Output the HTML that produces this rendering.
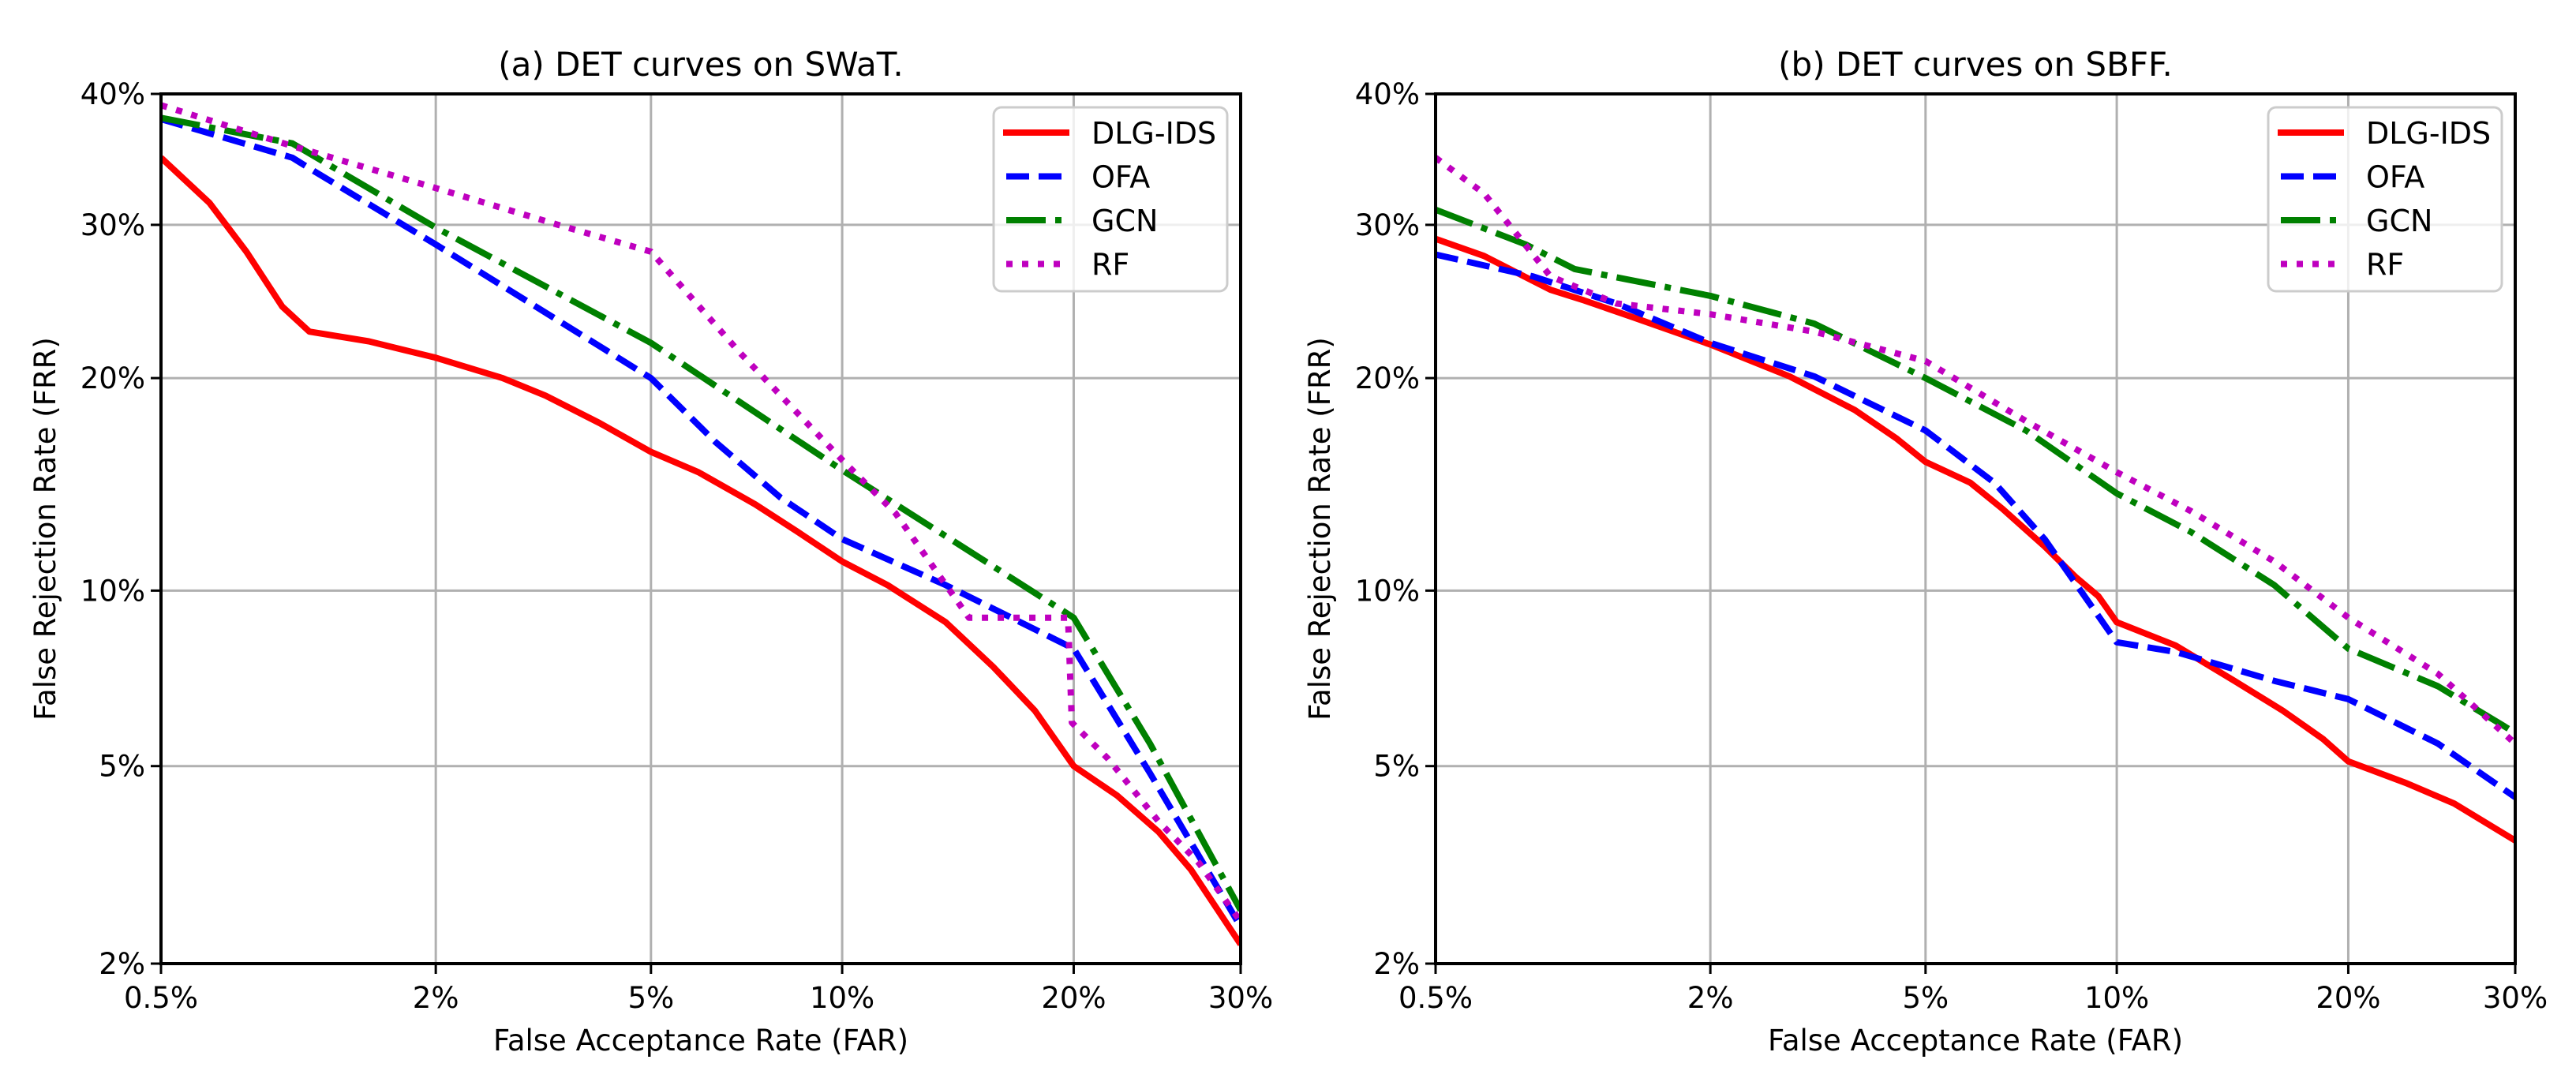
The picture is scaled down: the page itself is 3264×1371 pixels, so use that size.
<!DOCTYPE html>
<html><head><meta charset="utf-8">
<style>
html,body{margin:0;padding:0;background:#fff;}
svg{display:block;font-family:"DejaVu Sans","Liberation Sans",sans-serif;}
</style></head>
<body>
<svg id="fig" width="3264" height="1371" viewBox="0 0 3264 1371" xmlns="http://www.w3.org/2000/svg"></svg>
<script>
// ---- data (percent) ----
const xTicks = [0.5, 2, 5, 10, 20, 30];
const xTickLabels = ["0.5%", "2%", "5%", "10%", "20%", "30%"];
const yTicks = [2, 5, 10, 20, 30, 40];
const yTickLabels = ["2%", "5%", "10%", "20%", "30%", "40%"];
const seriesNames = ["DLG-IDS", "OFA", "GCN", "RF"];

// Panel (a) SWaT
const swatDlgFar = [0.5,0.65,0.79,0.95,1.09,1.46,2,2.7,3.25,4.07,5,6.0,7.4,8.6,10,11.6,13.9,16,18,20,22.4,24.8,26.8,30];
const swatDlgFrr = [35,31.6,28.1,24.4,22.8,22.2,21.2,20,19,17.5,16,15,13.5,12.3,11.1,10.2,8.9,7.5,6.3,5,4.4,3.75,3.15,2.2];
const swatOfaFar = [0.5,1.0,1.1,2,5,6.4,8.1,10,13.9,20,24.3,30];
const swatOfaFrr = [38,35,34.1,28.6,20,16.5,13.8,12,10.2,8.05,4.85,2.4];
const swatGcnFar = [0.5,1.0,2,5,10,20,24.3,30];
const swatGcnFrr = [38.1,36.1,29.8,22.1,15.1,9.05,5.5,2.6];
const swatRfFar = [0.5,1.0,2,3.43,5,7.0,10,11.9,14.9,19.7,19.9,21.9,24.8,27.3,30];
const swatRfFrr = [39.1,35.9,32.7,30,28.1,21.5,15.6,13.1,9.05,9.05,6.0,5.15,3.93,3.25,2.46];

// Panel (b) SBFF
const sbffDlgFar = [0.5,0.65,0.92,1.09,1.39,2,2.85,3.76,4.45,5,5.94,6.7,7.8,8.7,9.4,10,12.1,14.5,16.7,18.7,20,23.2,26.1,30];
const sbffDlgFrr = [29,27.8,25.5,24.8,23.7,22,20.1,18.2,16.7,15.5,14.5,13.3,11.7,10.5,9.8,8.9,8.15,7.1,6.3,5.6,5.1,4.65,4.25,3.6];
const sbffOfaFar = [0.5,0.84,1.28,2,3.17,5,6.5,7.8,10,12.1,16.3,20,25.1,30];
const sbffOfaFrr = [27.9,26.4,24.6,22.1,20.1,17.1,14.5,12,8.25,7.95,7.1,6.6,5.5,4.37];
const sbffGcnFar = [0.5,0.81,1.04,2,3.17,5,7.3,10,12.7,16.3,20,25.1,30];
const sbffGcnFrr = [31.1,28.6,26.9,25.1,23.3,20,17.1,14,12.3,10.2,8.05,6.95,5.75];
const sbffRfFar = [0.5,0.65,0.92,1.28,2,3.17,5,7.3,10,12.7,16.3,20,25.1,30];
const sbffRfFrr = [35,32.3,26.4,24.6,23.9,22.8,21,17.6,15,13.2,11.1,9.05,7.3,5.5];

// ---- helpers ----
function probit(p){
  const a=[-3.969683028665376e+01,2.209460984245205e+02,-2.759285104469687e+02,1.383577518672690e+02,-3.066479806614716e+01,2.506628277459239e+00];
  const b=[-5.447609879822406e+01,1.615858368580409e+02,-1.556989798598866e+02,6.680131188771972e+01,-1.328068155288572e+01];
  const c=[-7.784894002430293e-03,-3.223964580411365e-01,-2.400758277161838e+00,-2.549732539343734e+00,4.374664141464968e+00,2.938163982698783e+00];
  const d=[7.784695709041462e-03,3.224671290700398e-01,2.445134137142996e+00,3.754408661907416e+00];
  const pl=0.02425;let q,r;
  if(p<pl){q=Math.sqrt(-2*Math.log(p));return (((((c[0]*q+c[1])*q+c[2])*q+c[3])*q+c[4])*q+c[5])/((((d[0]*q+d[1])*q+d[2])*q+d[3])*q+1);}
  if(p<=1-pl){q=p-0.5;r=q*q;return (((((a[0]*r+a[1])*r+a[2])*r+a[3])*r+a[4])*r+a[5])*q/(((((b[0]*r+b[1])*r+b[2])*r+b[3])*r+b[4])*r+1);}
  q=Math.sqrt(-2*Math.log(1-p));return -(((((c[0]*q+c[1])*q+c[2])*q+c[3])*q+c[4])*q+c[5])/((((d[0]*q+d[1])*q+d[2])*q+d[3])*q+1);
}
const NS="http://www.w3.org/2000/svg";
const svg=document.getElementById('fig');
function mk(tag,attrs,parent){const e=document.createElementNS(NS,tag);for(const k in attrs)e.setAttribute(k,attrs[k]);(parent||svg).appendChild(e);return e;}

const styles=[
  {color:"#ff0000",dash:null},
  {color:"#0000ff",dash:"29,12"},
  {color:"#008000",dash:"50,12,8,12"},
  {color:"#bf00bf",dash:"8,12"}
];

function panel(key,L,title,series){
  const T=119,B=1221,W=1368,R=L+W;
  const x0=probit(0.005),x1=probit(0.30),y0=probit(0.02),y1=probit(0.40);
  const sx=v=>L+(probit(v/100)-x0)/(x1-x0)*W;
  const sy=v=>B-(probit(v/100)-y0)/(y1-y0)*(B-T);
  const g=mk('g',{});
  
  
  // grid
  xTicks.forEach((t,i)=>{
    const x=sx(t);
    const ln=mk('line',{x1:x,x2:x,y1:T,y2:B,stroke:'#b0b0b0','stroke-width':3},g);
    
    
    mk('line',{x1:x,x2:x,y1:B,y2:B+13,stroke:'#000','stroke-width':3},g);
    const tx=mk('text',{x:x,y:B+56,'font-size':37,'text-anchor':'middle',fill:'#000'},g);
    tx.textContent=xTickLabels[i];
    
    
  });
  yTicks.forEach((t,i)=>{
    const y=sy(t);
    const ln=mk('line',{x1:L,x2:R,y1:y,y2:y,stroke:'#b0b0b0','stroke-width':3},g);
    
    
    mk('line',{x1:L-13,x2:L,y1:y,y2:y,stroke:'#000','stroke-width':3},g);
    const tx=mk('text',{x:L-20,y:y+13,'font-size':37,'text-anchor':'end',fill:'#000'},g);
    tx.textContent=yTickLabels[i];
    
    
  });
  // curves
  const clip=mk('clipPath',{id:'clip-'+key},g);
  mk('rect',{x:L,y:T,width:W,height:B-T},clip);
  series.forEach((s,i)=>{
    const pts=s[0].map((v,j)=>sx(v).toFixed(1)+','+sy(s[1][j]).toFixed(1)).join(' ');
    const a={points:pts,fill:'none',stroke:styles[i].color,'stroke-width':8,'stroke-linejoin':'round','clip-path':'url(#clip-'+key+')'};
    if(styles[i].dash){a['stroke-dasharray']=styles[i].dash;}
    const pl=mk('polyline',a,g);
    
    
  });
  // frame
  const fr=mk('rect',{x:L,y:T,width:W,height:B-T,fill:'none',stroke:'#000','stroke-width':4},g);
  
  
  // titles
  const tt=mk('text',{x:L+W/2,y:96,'font-size':42,'text-anchor':'middle',fill:'#000'},g);
  tt.textContent=title;
  
  
  const xt=mk('text',{x:L+W/2,y:1331,'font-size':37,'text-anchor':'middle',fill:'#000'},g);
  xt.textContent='False Acceptance Rate (FAR)';
  
  
  const yt=mk('text',{x:0,y:0,'font-size':37,'text-anchor':'middle',fill:'#000',transform:'translate('+(L-134)+','+((T+B)/2)+') rotate(-90)'},g);
  yt.textContent='False Rejection Rate (FRR)';
  
  
  // legend
  const lx=L+1055, ly=136;
  const lg=mk('g',{},g);
  
  
  mk('rect',{x:lx,y:ly,width:296,height:233,rx:10,fill:'#fff','fill-opacity':0.8,stroke:'#cccccc','stroke-width':3},lg);
  seriesNames.forEach((n,i)=>{
    const y=168+i*55.5;
    const a={x1:lx+12,x2:lx+96,y1:y,y2:y,stroke:styles[i].color,'stroke-width':8};
    if(styles[i].dash){a['stroke-dasharray']=styles[i].dash;a.x1=lx+16;}
    const ln=mk('line',a,lg);
    
    
    const tx=mk('text',{x:lx+124,y:y+14,'font-size':38,fill:'#000'},lg);
    tx.textContent=n;
    
    
  });
}
panel('swat',204,'(a) DET curves on SWaT.',[[swatDlgFar,swatDlgFrr],[swatOfaFar,swatOfaFrr],[swatGcnFar,swatGcnFrr],[swatRfFar,swatRfFrr]]);
panel('sbff',1819,'(b) DET curves on SBFF.',[[sbffDlgFar,sbffDlgFrr],[sbffOfaFar,sbffOfaFrr],[sbffGcnFar,sbffGcnFrr],[sbffRfFar,sbffRfFrr]]);
</script>
</body></html>
